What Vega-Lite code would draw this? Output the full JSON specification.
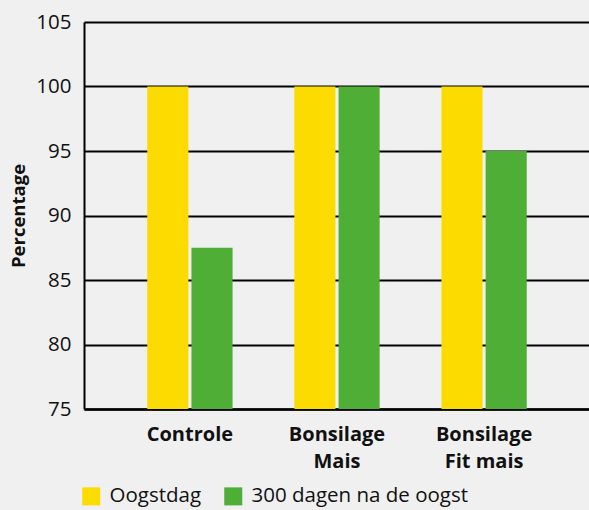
{
  "$schema": "https://vega.github.io/schema/vega-lite/v6.json",
  "width": 506,
  "height": 387,
  "autosize": {"type": "none"},
  "padding": {"left": 84, "top": 22, "right": 0, "bottom": 101},
  "background": "#F0F0F0",
  "config": {
    "view": {"stroke": null},
    "font": "Open Sans"
  },
  "data": {
    "values": [
      {"groep": "Controle", "reeks": "Oogstdag", "waarde": 100},
      {"groep": "Controle", "reeks": "300 dagen na de oogst", "waarde": 87.5},
      {"groep": "Bonsilage|Mais", "reeks": "Oogstdag", "waarde": 100},
      {"groep": "Bonsilage|Mais", "reeks": "300 dagen na de oogst", "waarde": 100},
      {"groep": "Bonsilage|Fit mais", "reeks": "Oogstdag", "waarde": 100},
      {"groep": "Bonsilage|Fit mais", "reeks": "300 dagen na de oogst", "waarde": 95}
    ]
  },
  "mark": {"type": "bar", "clip": true},
  "encoding": {
    "x": {
      "field": "groep",
      "type": "nominal",
      "sort": null,
      "scale": {"paddingInner": 0.42, "paddingOuter": 0.43},
      "axis": {
        "title": null,
        "labelAngle": 0,
        "labelExpr": "split(datum.label, '|')",
        "labelFont": "Open Sans",
        "labelFontSize": 20,
        "labelFontWeight": "bold",
        "labelColor": "#111111",
        "labelLineHeight": 27,
        "labelPadding": 15,
        "ticks": false,
        "domainColor": "#000000",
        "domainWidth": 2.5
      }
    },
    "xOffset": {
      "field": "reeks",
      "type": "nominal",
      "sort": ["Oogstdag", "300 dagen na de oogst"],
      "scale": {"paddingInner": 0.07, "paddingOuter": 0}
    },
    "y": {
      "field": "waarde",
      "type": "quantitative",
      "scale": {"domain": [75, 105], "zero": false, "nice": false},
      "axis": {
        "title": "Percentage",
        "titleFont": "Open Sans",
        "titleFontSize": 18.5,
        "titleFontWeight": "bold",
        "titleColor": "#111111",
        "titlePadding": 7,
        "values": [75, 80, 85, 90, 95, 100, 105],
        "labelFont": "Open Sans",
        "labelFontSize": 20.5,
        "labelColor": "#111111",
        "labelPadding": 13,
        "ticks": false,
        "grid": true,
        "gridColor": "#000000",
        "gridWidth": 2,
        "gridOpacity": 1,
        "domainColor": "#000000",
        "domainWidth": 2
      }
    },
    "y2": {"datum": 75},
    "color": {
      "field": "reeks",
      "type": "nominal",
      "sort": ["Oogstdag", "300 dagen na de oogst"],
      "scale": {"domain": ["Oogstdag", "300 dagen na de oogst"], "range": ["#FBDB00", "#4EAE35"]},
      "legend": {
        "title": null,
        "orient": "none",
        "direction": "horizontal",
        "legendX": -3,
        "legendY": 464,
        "symbolType": "square",
        "symbolSize": 324,
        "symbolStrokeWidth": 0,
        "symbolOpacity": 1,
        "labelFont": "Open Sans",
        "labelFontSize": 20.5,
        "labelColor": "#111111",
        "labelOffset": 8,
        "labelLimit": 400,
        "columnPadding": 21
      }
    }
  }
}
